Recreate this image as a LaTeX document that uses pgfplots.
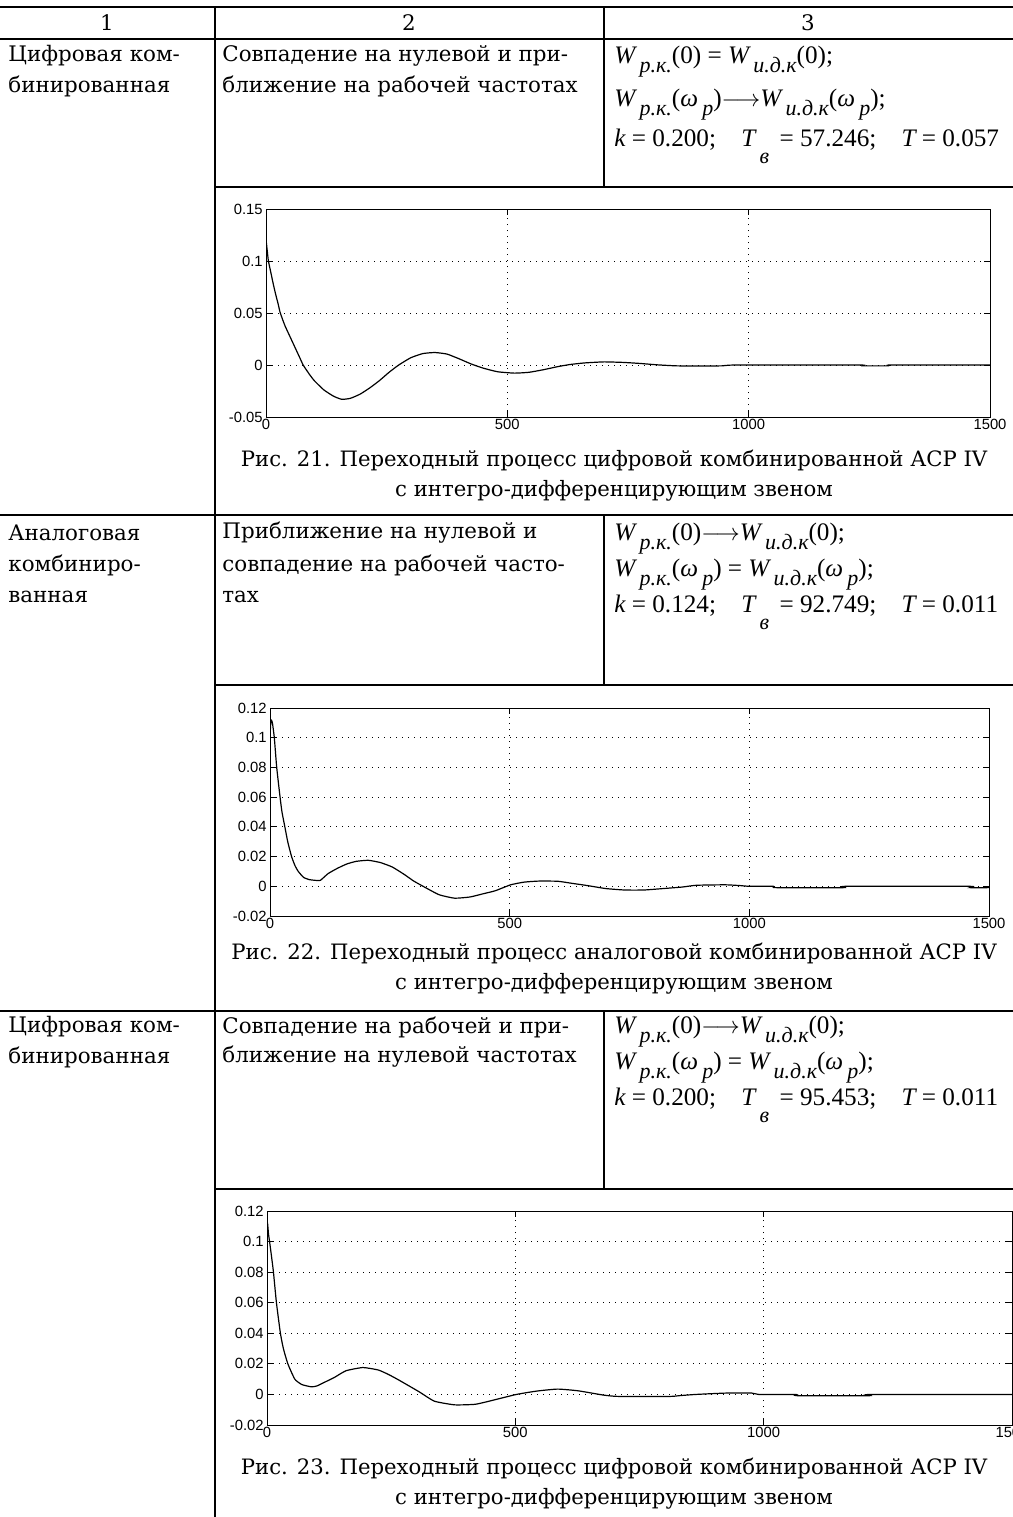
\documentclass[border=0pt]{standalone}
\usepackage{fontspec}
\setmainfont{DejaVu Serif}
\newfontfamily\fm{Liberation Serif}
\newfontfamily\tf{Liberation Sans}
\usepackage{pgfplots}
\pgfplotsset{compat=1.18}
\newcommand{\Sb}[1]{\raisebox{-0.8ex}{\fontsize{11}{11}\selectfont\itshape #1}}
\newcommand{\Sbb}[1]{\raisebox{-1.5ex}{\fontsize{11}{11}\selectfont\itshape #1}}
\pgfplotsset{mstyle/.style={
  scale only axis, xmin=0, xmax=1500,
  xtick={0,500,1000,1500}, xticklabels={0,500,1000,1500},
  grid=major, grid style={black, line width=0.5pt, dash pattern=on 0.5pt off 2.5pt},
  tick align=inside, tick pos=both, major tick length=3pt,
  axis line style={black, line width=0.5pt},
  tick style={black, line width=0.5pt},
  ticklabel style={font=\tf\fontsize{7.4}{8}\selectfont},
  xticklabel style={inner sep=1pt},
  yticklabel style={inner sep=1.5pt},
  anchor=south west, clip=true,
}}
\begin{document}
\begin{tikzpicture}[x=0.5pt,y=-0.5pt,
  txt/.style={anchor=west, inner sep=0pt, font=\fontsize{10.7}{15}\selectfont},
  frm/.style={anchor=base west, inner sep=0pt, font=\fm\fontsize{12.6}{14}\selectfont}]
\useasboundingbox (0,0) rectangle (1013,1517);
\clip (0,0) rectangle (1013,1517);
% table lines
\begin{scope}[line width=1.2pt]
\draw (0,7) -- (1013,7);
\draw (0,39) -- (1013,39);
\draw (215,187) -- (1013,187);
\draw (0,515) -- (1013,515);
\draw (215,685) -- (1013,685);
\draw (0,1011) -- (1013,1011);
\draw (215,1189) -- (1013,1189);
\draw (215,7) -- (215,1517);
\draw (604,7) -- (604,187);
\draw (604,515) -- (604,685);
\draw (604,1011) -- (604,1189);
\end{scope}
% header
\node[font=\fontsize{10.7}{15}\selectfont] at (107,23) {1};
\node[font=\fontsize{10.7}{15}\selectfont] at (409,23) {2};
\node[font=\fontsize{10.7}{15}\selectfont] at (808,23) {3};
% row 1
\node[txt] at (8,56) {Цифровая ком-};
\node[txt] at (8,86) {бинированная};
\node[txt] at (222,56) {Совпадение на нулевой и при-};
\node[txt] at (222,86) {ближение на рабочей частотах};
\node[frm] at (614,63) {\itshape W\,\Sb{р.к.}\upshape(0) = \itshape W\,\Sb{и.д.к}\upshape(0);};
\node[frm] at (614,106) {\itshape W\,\Sb{р.к.}\upshape(\itshape ω\,\Sb{р}\upshape)$\longrightarrow$\itshape W\,\Sb{и.д.к}\upshape(\itshape ω\,\Sb{р}\upshape);};
\node[frm] at (614,146) {\itshape k \upshape= 0.200;\quad \itshape T\,\Sbb{в}\, \upshape= 57.246;\quad \itshape T \upshape= 0.057};
\node[font=\fontsize{10.6}{15}\selectfont] at (614,460) {Рис. 21. Переходный процесс цифровой комбинированной АСР IV};
\node[font=\fontsize{10.6}{15}\selectfont] at (614,491) {с интегро-дифференцирующим звеном};
% row 2
\node[txt] at (8,533) {Аналоговая};
\node[txt] at (8,565) {комбиниро-};
\node[txt] at (8,597) {ванная};
\node[txt] at (222,533) {Приближение на нулевой и};
\node[txt] at (222,565) {совпадение на рабочей часто-};
\node[txt] at (222,597) {тах};
\node[frm] at (614,540) {\itshape W\,\Sb{р.к.}\upshape(0)$\longrightarrow$\itshape W\,\Sb{и.д.к}\upshape(0);};
\node[frm] at (614,576) {\itshape W\,\Sb{р.к.}\upshape(\itshape ω\,\Sb{р}\upshape) = \itshape W\,\Sb{и.д.к}\upshape(\itshape ω\,\Sb{р}\upshape);};
\node[frm] at (614,612) {\itshape k \upshape= 0.124;\quad \itshape T\,\Sbb{в}\, \upshape= 92.749;\quad \itshape T \upshape= 0.011};
\node[font=\fontsize{10.6}{15}\selectfont] at (614,953) {Рис. 22. Переходный процесс аналоговой комбинированной АСР IV};
\node[font=\fontsize{10.6}{15}\selectfont] at (614,984) {с интегро-дифференцирующим звеном};
% row 3
\node[txt] at (8,1027) {Цифровая ком-};
\node[txt] at (8,1057) {бинированная};
\node[txt] at (222,1027) {Совпадение на рабочей и при-};
\node[txt] at (222,1057) {ближение на нулевой частотах};
\node[frm] at (614,1033) {\itshape W\,\Sb{р.к.}\upshape(0)$\longrightarrow$\itshape W\,\Sb{и.д.к}\upshape(0);};
\node[frm] at (614,1069) {\itshape W\,\Sb{р.к.}\upshape(\itshape ω\,\Sb{р}\upshape) = \itshape W\,\Sb{и.д.к}\upshape(\itshape ω\,\Sb{р}\upshape);};
\node[frm] at (614,1105) {\itshape k \upshape= 0.200;\quad \itshape T\,\Sbb{в}\, \upshape= 95.453;\quad \itshape T \upshape= 0.011};
\node[font=\fontsize{10.6}{15}\selectfont] at (614,1468) {Рис. 23. Переходный процесс цифровой комбинированной АСР IV};
\node[font=\fontsize{10.6}{15}\selectfont] at (614,1499) {с интегро-дифференцирующим звеном};
% axes anchors
\coordinate (A1) at (266,417);
\coordinate (A2) at (270,916);
\coordinate (A3) at (267,1425);
\begin{axis}[mstyle, at={(A1)}, width=362pt, height=104pt,
  ymin=-0.05, ymax=0.15, ytick={-0.05,0,0.05,0.1,0.15},
  yticklabels={-0.05,0,0.05,0.1,0.15}]
\addplot[black, line width=0.6pt, smooth, tension=0.3] coordinates {
(0,0.121)(3,0.108)(5,0.100)(10,0.089)(15,0.078)(20,0.068)(25,0.059)(29,0.051)(35,0.043)(40,0.037)(50,0.027)(60,0.017)(70,0.007)(77,0.0)(90,-0.009)(100,-0.015)(120,-0.024)(140,-0.030)(157,-0.033)(175,-0.032)(195,-0.028)(215,-0.022)(235,-0.015)(255,-0.007)(275,0.0)(300,0.007)(325,0.011)(350,0.012)(375,0.0105)(400,0.006)(425,0.001)(450,-0.003)(480,-0.0065)(515,-0.0078)(545,-0.007)(575,-0.0045)(605,-0.0015)(630,0.0005)(660,0.002)(700,0.003)(740,0.0025)(775,0.0015)(810,0.0002)(850,-0.0008)(900,-0.001)(945,-0.0008)(975,0)(1230,0)(1235,-0.0008)(1290,-0.0008)(1295,0)(1500,0)};
\end{axis}
\begin{axis}[mstyle, at={(A2)}, width=359.5pt, height=104pt,
  ymin=-0.02, ymax=0.12, ytick={-0.02,0,0.02,0.04,0.06,0.08,0.1,0.12},
  yticklabels={-0.02,0,0.02,0.04,0.06,0.08,0.1,0.12}]
\addplot[black, line width=0.6pt, smooth, tension=0.3] coordinates {
(0,0.100)(2,0.112)(5,0.110)(9,0.100)(14,0.080)(21,0.060)(25,0.050)(31,0.040)(37,0.030)(45,0.020)(52,0.014)(59,0.010)(70,0.006)(82,0.0045)(95,0.004)(105,0.004)(121,0.0085)(140,0.012)(160,0.015)(180,0.0168)(205,0.0175)(230,0.016)(255,0.013)(280,0.008)(300,0.0035)(325,-0.001)(353,-0.0057)(385,-0.008)(417,-0.0072)(445,-0.005)(470,-0.003)(502,0.001)(530,0.0028)(560,0.0035)(600,0.0034)(630,0.002)(662,0.0005)(700,-0.0015)(740,-0.0025)(780,-0.0025)(821,-0.0015)(860,-0.0005)(890,0.0007)(950,0.001)(980,0.0005)(1000,0)(1050,0)(1055,-0.0009)(1198,-0.0009)(1202,0)(1458,0)(1460,-0.0009)(1500,-0.0009)};
\end{axis}
\begin{axis}[mstyle, at={(A3)}, width=372.5pt, height=107pt,
  ymin=-0.02, ymax=0.12, ytick={-0.02,0,0.02,0.04,0.06,0.08,0.1,0.12},
  yticklabels={-0.02,0,0.02,0.04,0.06,0.08,0.1,0.12}]
\addplot[black, line width=0.6pt, smooth, tension=0.3] coordinates {
(0,0.100)(1,0.112)(3,0.105)(6,0.098)(10,0.088)(13,0.080)(19,0.060)(27,0.040)(33,0.030)(42,0.020)(56,0.010)(70,0.0065)(89,0.005)(100,0.0055)(116,0.008)(135,0.011)(159,0.0155)(193,0.0176)(224,0.016)(245,0.013)(265,0.0095)(306,0.0018)(337,-0.0044)(378,-0.0068)(420,-0.0064)(461,-0.0033)(502,0.0)(543,0.0022)(585,0.0035)(626,0.0024)(677,-0.0004)(700,-0.0012)(718,-0.0013)(811,-0.0013)(830,-0.0008)(863,0)(925,0.0009)(976,0.0009)(990,0)(1065,0)(1068,-0.0008)(1213,-0.0008)(1216,0)(1500,0)};
\end{axis}
\end{tikzpicture}
\end{document}
